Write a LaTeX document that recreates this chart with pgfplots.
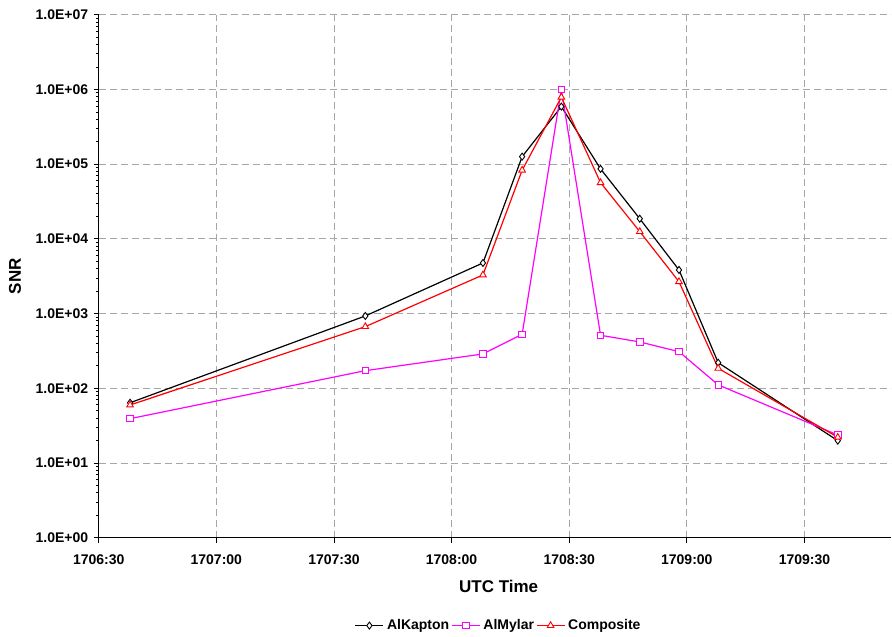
\documentclass[border=0pt]{standalone}
\usepackage{fontspec}
\setmainfont{Liberation Sans}
\usepackage{pgfplots}
\pgfplotsset{compat=1.18}

\definecolor{mylar}{RGB}{255,0,255}
\definecolor{comp}{RGB}{255,0,0}

% time in seconds after 1706:30 UTC
\pgfplotstableread{
t      kapton   mylar    composite
8      64       39.2     59.7
68     929      172      668
98     4755     288      3287
108    126000   528      83000
118    589000   1000000  787000
128    86300    512      56500
138    18600    417      12500
148    3835     309      2673
158    220      111      185
188.5  19.9     23.7     22.1
}\snrdata

\begin{document}
\begin{tikzpicture}[x=1pt,y=1pt]
\path[use as bounding box] (-98.7,-99.3) rectangle (793.3,537.7);
\begin{axis}[
    scale only axis,
    width=792pt,
    height=523pt,
    at={(0,0)}, anchor=south west,
    axis x line=bottom,
    axis y line=left,
    axis line style={-, black, line width=0.9pt},
    xmin=0, xmax=202,
    ymode=log,
    ymin=1, ymax=1e7,
    xtick={0,30,60,90,120,150,180},
    xticklabels={1706:30,1707:00,1707:30,1708:00,1708:30,1709:00,1709:30},
    ytick={1,10,100,1000,10000,100000,1000000,10000000},
    yticklabels={1.0E+00,1.0E+01,1.0E+02,1.0E+03,1.0E+04,1.0E+05,1.0E+06,1.0E+07},
    minor ytick={},
    tick align=outside,
    major tick length=5pt,
    tick style={black, line width=0.8pt},
    grid=major,
    major grid style={gray!70, dashed, line width=0.8pt, dash pattern=on 7pt off 4pt},
    ticklabel style={font=\bfseries\fontsize{14}{16}\selectfont},
    yticklabel style={xshift=-2pt},
    xticklabel style={yshift=-8pt},
    xlabel={UTC Time},
    ylabel={SNR},
    xlabel style={font=\bfseries\fontsize{17}{19}\selectfont,
        at={(axis description cs:0.505,-0.0933)}, anchor=center},
    ylabel style={font=\bfseries\fontsize{17}{19}\selectfont,
        at={(axis description cs:-0.1057,0.5)}, anchor=center},
    legend columns=3,
    legend style={draw=none, fill=none,
        at={(0.505,-0.168)}, anchor=center,
        font=\bfseries\fontsize{14}{16}\selectfont,
        /tikz/every odd column/.append style={column sep=1pt}},
    legend image code/.code={
        \draw[#1, mark repeat=2, mark phase=2] plot coordinates {(0pt,0pt) (14pt,0pt) (28pt,0pt)};
    },
    every axis plot/.append style={line width=1.2pt, mark size=3.5pt,
        mark options={solid, fill=white, line width=0.9pt}},
]
\addplot[black, mark=diamond*] table[x=t, y=kapton] {\snrdata};
\addplot[mylar, mark=square*, mark size=3.2pt] table[x=t, y=mylar] {\snrdata};
\addplot[comp, mark=triangle*, mark size=3.8pt] table[x=t, y=composite] {\snrdata};
\legend{AlKapton, AlMylar, Composite}
\end{axis}
\end{tikzpicture}
\end{document}
